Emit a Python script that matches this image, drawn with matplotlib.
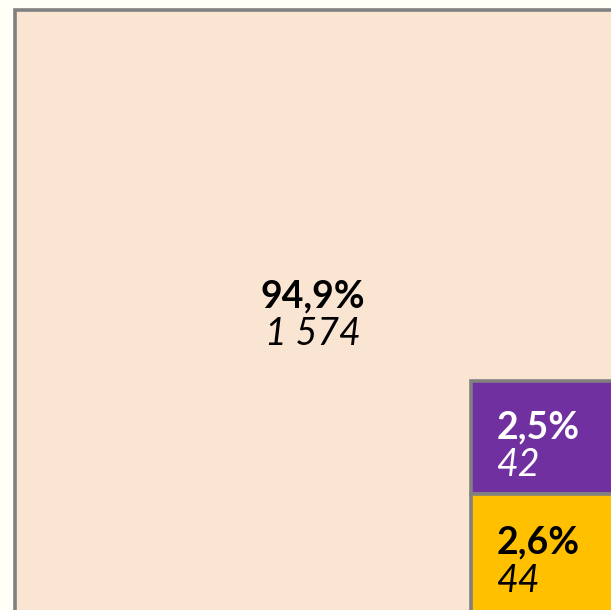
import matplotlib
matplotlib.use("Agg")
import matplotlib.pyplot as plt
from matplotlib.patches import Rectangle

# data
categories = ["main", "purple", "yellow"]
counts = [1574, 42, 44]
pct_labels = ["94,9%", "2,5%", "2,6%"]

# styles
BG = "#FFFFF7"
FILL = {"main": "#FAE5D3", "purple": "#7030A0", "yellow": "#FFC000"}
TXT = {"main": "black", "purple": "white", "yellow": "black"}
EDGE = "#808080"
LW = 2.6
FONT = "Lato"
FS = 27

# layout in pixel space (view is cropped on right and bottom)
W, H = 611, 610
BIG_X0, BIG_Y0, BIG_X1, BIG_Y1 = 15, 10, 660, 660
COL_X0, COL_Y0, COL_H, COL_W = 471, 381, 231, 220


def fmt(v):
    return f"{v:,}".replace(",", " ")


def label(x, y, pct, n, color, ha):
    ax.text(x, y - 1, pct, ha=ha, va="bottom", fontsize=FS,
            fontweight="bold", family=FONT, color=color)
    ax.text(x, y + 2, fmt(n), ha=ha, va="top", fontsize=FS,
            style="italic", family=FONT, color=color)


fig = plt.figure(figsize=(W / 100, H / 100), dpi=100, facecolor=BG)
ax = fig.add_axes([0, 0, 1, 1])
ax.set_xlim(0, W)
ax.set_ylim(H, 0)
ax.axis("off")

# big block
ax.add_patch(Rectangle((BIG_X0, BIG_Y0), BIG_X1 - BIG_X0, BIG_Y1 - BIG_Y0,
                       facecolor=FILL["main"], edgecolor=EDGE, lw=LW))
label((BIG_X0 + W) / 2, (BIG_Y0 + H) / 2 + 4, pct_labels[0], counts[0],
      TXT["main"], "center")

# small column, split by value
small = counts[1:]
tot = sum(small)
y = COL_Y0
for cat, v, lab in zip(categories[1:], small, pct_labels[1:]):
    h = COL_H * v / tot
    ax.add_patch(Rectangle((COL_X0, y), COL_W, h, facecolor=FILL[cat],
                           edgecolor=EDGE, lw=LW))
    label(COL_X0 + 26, y + h / 2 + 8, lab, v, TXT[cat], "left")
    y += h

fig.savefig("out.png", dpi=100, facecolor=BG)
